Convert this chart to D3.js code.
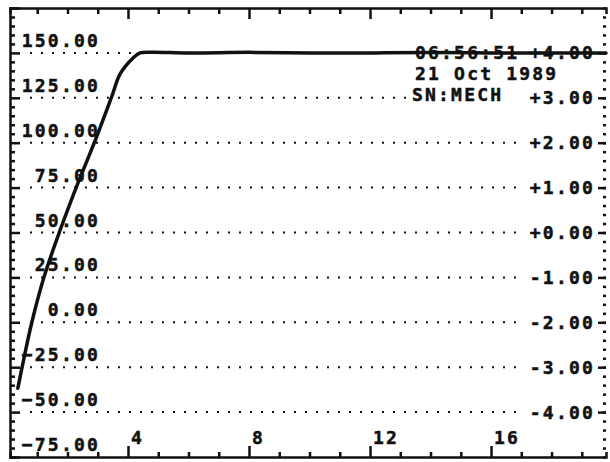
<!DOCTYPE html>
<html>
<head>
<meta charset="utf-8">
<script src="https://cdn.jsdelivr.net/npm/d3@7"></script>
<style>
  body { margin: 0; background: #fff; }
  svg { display: block; }
  text {
    font-family: "DejaVu Sans Mono", monospace;
    font-weight: bold;
    font-size: 18px;
    letter-spacing: 2.2px;
    fill: #111;
    stroke: #111;
    stroke-width: 0.5px;
  }
</style>
</head>
<body>
<svg id="chart"></svg>
<script>
// curve (time, force)
const timeVals  = [0.36, 0.50, 0.83, 1.24, 1.75, 2.31, 2.91, 3.47, 3.74, 4.17, 4.40, 4.80, 6.0, 8.0, 10.0, 12.0, 14.0, 16.0, 18.0, 19.8];
const forceVals = [-36.7, -25, 0.6, 26, 51, 76, 101, 126, 138.3, 147.2, 150, 150.4, 150, 150.3, 150, 150, 150.2, 150, 150, 150];

const leftTicks  = [150, 125, 100, 75, 50, 25, 0, -25, -50, -75];
const rightTicks = [4, 3, 2, 1, 0, -1, -2, -3, -4];
const xTicks     = [4, 8, 12, 16];
const stamp      = ["06:56:51", "21 Oct 1989", "SN:MECH"];

const W = 610, H = 462;
const margin = { top: 8, right: 4, bottom: 5, left: 10 };
const width = W - margin.left - margin.right;
const height = H - margin.top - margin.bottom;

const svg = d3.select("#chart").attr("width", W).attr("height", H);
const g = svg.append("g").attr("transform", `translate(${margin.left},${margin.top})`);

const x = d3.scaleLinear().domain([0.1, 19.8]).range([0, width]);
const y = d3.scaleLinear().domain([-75, 175]).range([height, 0]);
const yR = d3.scaleLinear().domain([-5, 5]).range([height, 0]);

const ink = "#111";

// dotted grid, from just right of the frame to the right-hand labels
g.selectAll(".grid")
  .data(leftTicks.filter(d => d > -75))
  .enter().append("line")
  .attr("class", "grid")
  .attr("x1", 20)
  .attr("x2", d => d === 125 ? 398 : width - 82)
  .attr("y1", d => y(d))
  .attr("y2", d => y(d))
  .attr("stroke", ink)
  .attr("stroke-width", 2)
  .attr("stroke-dasharray", "2,9");

// frame: left, bottom, top lines with ticks
const minorY = d3.range(-75, 176, 5);
const unitX = d3.range(1, 20, 1);

g.append("g")
  .call(d3.axisRight(y).tickValues(minorY).tickSize(5).tickFormat(""))
  .call(a => a.selectAll("path,line").attr("stroke", ink).attr("stroke-width", 2.5))
  .call(a => a.selectAll(".tick line").filter(d => d % 25 === 0).attr("x2", 10));

g.append("g")
  .attr("transform", `translate(0,${height})`)
  .call(d3.axisTop(x).tickValues(unitX).tickSize(5).tickFormat(""))
  .call(a => a.selectAll("path,line").attr("stroke", ink).attr("stroke-width", 2.5))
  .call(a => a.selectAll(".tick line").filter(d => d % 4 === 0).attr("y2", -11));

g.append("g")
  .call(d3.axisBottom(x).tickValues(unitX).tickSize(6).tickFormat(""))
  .call(a => a.selectAll("path,line").attr("stroke", ink).attr("stroke-width", 2.5))
  .call(a => a.selectAll(".tick line").filter(d => d % 4 === 0).attr("y2", 11));

// right edge: only short marks, no line
g.append("g")
  .attr("transform", `translate(${width},0)`)
  .call(d3.axisLeft(y).tickValues(minorY).tickSize(3).tickFormat(""))
  .call(a => a.select(".domain").remove())
  .call(a => a.selectAll("line").attr("stroke", ink).attr("stroke-width", 2.5));

g.append("g")
  .attr("transform", `translate(${width},0)`)
  .call(d3.axisLeft(yR).tickValues(rightTicks).tickSize(8).tickFormat(""))
  .call(a => a.select(".domain").remove())
  .call(a => a.selectAll("line").attr("stroke", ink).attr("stroke-width", 2.5));

// left labels sit above their grid line
g.selectAll(".lab-left")
  .data(leftTicks)
  .enter().append("text")
  .attr("class", "lab-left")
  .attr("x", 90)
  .attr("y", d => y(d) - 6)
  .attr("text-anchor", "end")
  .text(d => d3.format(".2f")(d));

// right labels centred on their grid line
const fmtR = d => (d >= 0 ? "+" : "-") + d3.format(".2f")(Math.abs(d));
g.selectAll(".lab-right")
  .data(rightTicks)
  .enter().append("text")
  .attr("class", "lab-right")
  .attr("x", width - 11)
  .attr("y", d => yR(d))
  .attr("dy", "0.36em")
  .attr("text-anchor", "end")
  .text(fmtR);

// x labels just above the bottom frame
g.selectAll(".lab-x")
  .data(xTicks)
  .enter().append("text")
  .attr("class", "lab-x")
  .attr("x", d => x(d) + 3)
  .attr("y", height - 13)
  .text(d => d);

// stamp block top right
g.selectAll(".stamp")
  .data(stamp)
  .enter().append("text")
  .attr("class", "stamp")
  .attr("x", (d, i) => i === 2 ? 402 : 405)
  .attr("y", (d, i) => y(150) + 6 + i * 21)
  .text(d => d);

// the curve
const pts = timeVals.map((t, i) => [t, forceVals[i]]);
g.append("path")
  .datum(pts)
  .attr("fill", "none")
  .attr("stroke", ink)
  .attr("stroke-width", 3.5)
  .attr("stroke-linejoin", "round")
  .attr("stroke-linecap", "round")
  .attr("d", d3.line().x(d => x(d[0])).y(d => y(d[1])).curve(d3.curveCatmullRom));
</script>
</body>
</html>
